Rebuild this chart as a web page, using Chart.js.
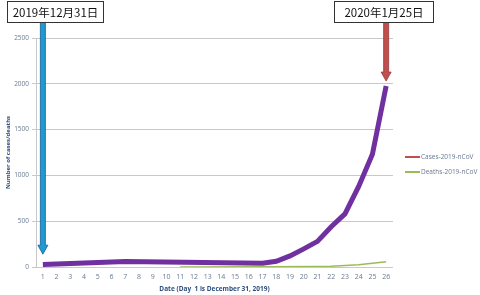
<!DOCTYPE html>
<html>
<head>
<meta charset="utf-8">
<script src="https://cdn.jsdelivr.net/npm/chart.js@4/dist/chart.umd.min.js"></script>
<style>
  html, body { margin: 0; padding: 0; background: #fff; }
  #wrap { width: 480px; height: 295px; position: relative; }
</style>
</head>
<body>
<div id="wrap"><canvas id="chart"></canvas></div>
<script>
const days = ['1','2','3','4','5','6','7','8','9','10','11','12','13','14','15','16','17','18','19','20','21','22','23','24','25','26']
// values only where the source line has a point, gaps spanned
const cases = [27, null, null, null, null, null, 59, null, null, null, null, null, null, null, null, null, 41, 62, 121, 198, 280, 440, 580, 880, 1230, 1975]
const deaths = [null, null, null, null, null, null, null, null, null, null, 1, null, null, null, null, null, 2, null, null, null, 6, 9, 17, 25, 41, 56]
const yTicks = [0, 500, 1000, 1500, 2000, 2500]
const notes = [
  { text: '2019年12月31日', day: '1', tip: 140, color: '#1e9ad6', edge: '#1b5d8c', box: [7, 1, 96, 21] },
  { text: '2020年1月25日', day: '26', tip: 2030, color: '#c0504d', edge: '#9b3a37', box: [334, 1, 99, 21] }
]

const tickColor = '#6a7a92'
const titleColor = '#2f4f7f'

const notesPlugin = {
  id: 'notes',
  afterDatasetsDraw(chart) {
    const ctx = chart.ctx
    const xs = chart.scales.x, ys = chart.scales.y
    notes.forEach(n => {
      const x = xs.getPixelForValue(days.indexOf(n.day))
      const tipY = ys.getPixelForValue(n.tip)
      const top = n.box[1] + n.box[3]
      const headH = 9, headW = 5, shaft = 2.5
      ctx.save()
      ctx.beginPath()
      ctx.moveTo(x - shaft, top)
      ctx.lineTo(x + shaft, top)
      ctx.lineTo(x + shaft, tipY - headH)
      ctx.lineTo(x + headW, tipY - headH)
      ctx.lineTo(x, tipY)
      ctx.lineTo(x - headW, tipY - headH)
      ctx.lineTo(x - shaft, tipY - headH)
      ctx.closePath()
      ctx.fillStyle = n.color
      ctx.fill()
      ctx.strokeStyle = n.edge
      ctx.lineWidth = 0.8
      ctx.stroke()
      // label box
      const [bx, by, bw, bh] = n.box
      ctx.fillStyle = '#fff'
      ctx.fillRect(bx, by, bw, bh)
      ctx.strokeStyle = '#333'
      ctx.lineWidth = 1
      ctx.strokeRect(bx + 0.5, by + 0.5, bw, bh)
      ctx.fillStyle = '#111'
      ctx.font = '11.5px "Noto Sans CJK JP", sans-serif'
      ctx.textAlign = 'center'
      ctx.textBaseline = 'middle'
      ctx.fillText(n.text, bx + bw / 2 + 0.5, by + bh / 2 + 1)
      ctx.restore()
    })
  },
  afterDraw(chart) {
    // legend: the source shows cases in red even though its line is purple
    const ctx = chart.ctx
    const items = [
      { label: chart.data.datasets[0].label, color: '#c0504d' },
      { label: chart.data.datasets[1].label, color: '#9bbb59' }
    ]
    ctx.save()
    ctx.font = '6.5px "Open Sans", sans-serif'
    ctx.textBaseline = 'middle'
    ctx.textAlign = 'left'
    items.forEach((it, i) => {
      const y = 157 + i * 15
      ctx.strokeStyle = it.color
      ctx.lineWidth = 2
      ctx.beginPath()
      ctx.moveTo(405, y)
      ctx.lineTo(420, y)
      ctx.stroke()
      ctx.fillStyle = tickColor
      ctx.fillText(it.label, 421, y)
    })
    ctx.restore()
  }
}

new Chart(document.getElementById('chart'), {
  type: 'line',
  data: {
    labels: days,
    datasets: [
      { label: 'Cases-2019-nCoV', data: cases, borderColor: '#7030a0', borderWidth: 5, pointRadius: 0, spanGaps: true, tension: 0 },
      { label: 'Deaths-2019-nCoV', data: deaths, borderColor: '#9bbb59', borderWidth: 1.5, pointRadius: 0, spanGaps: true, tension: 0 }
    ]
  },
  options: {
    responsive: true,
    maintainAspectRatio: false,
    animation: false,
    layout: { padding: { left: 0, right: 87, top: 38, bottom: 0 } },
    plugins: { legend: { display: false }, tooltip: { enabled: false } },
    scales: {
      x: {
        offset: true,
        grid: { display: false, drawTicks: false },
        border: { display: false },
        ticks: { color: tickColor, font: { size: 7, family: 'Open Sans' }, padding: 6, maxRotation: 0, autoSkip: false },
        title: { display: true, text: 'Date (Day  1 is December 31, 2019)', color: titleColor, font: { size: 6.5, weight: 'bold', family: 'Open Sans' }, padding: { top: 0, bottom: 2 } },
        afterFit(s) { s.height = 28 }
      },
      y: {
        min: 0,
        max: 2500,
        afterBuildTicks(s) { s.ticks = yTicks.map(v => ({ value: v })) },
        grid: { color: '#c8c8c8', lineWidth: 1, drawTicks: true, tickLength: 4 },
        border: { display: true, color: '#c8c8c8' },
        ticks: { color: tickColor, font: { size: 6.5, family: 'Open Sans' }, padding: 3, callback: v => String(v) },
        title: { display: true, text: 'Number of cases/deaths', color: titleColor, font: { size: 6, weight: 'bold', family: 'Open Sans' }, padding: { top: 5, bottom: 0 } },
        afterFit(s) { s.width = 36 }
      }
    }
  },
  plugins: [notesPlugin]
})
</script>
</body>
</html>
